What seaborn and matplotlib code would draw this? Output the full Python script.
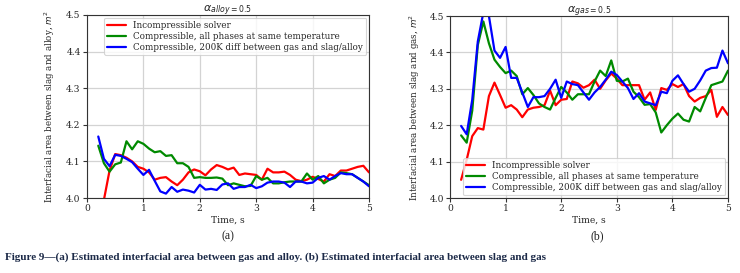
import numpy as np
import pandas as pd
import matplotlib
matplotlib.use("Agg")
import matplotlib.pyplot as plt
import seaborn as sns

time_s = [0.2, 0.3, 0.4, 0.5, 0.6, 0.7, 0.8, 0.9, 1.0, 1.1, 1.2, 1.3, 1.4, 1.5, 1.6, 1.7,
          1.8, 1.9, 2.0, 2.1, 2.2, 2.3, 2.4, 2.5, 2.6, 2.7, 2.8, 2.9, 3.0, 3.1, 3.2, 3.3,
          3.4, 3.5, 3.6, 3.7, 3.8, 3.9, 4.0, 4.1, 4.2, 4.3, 4.4, 4.5, 4.6, 4.7, 4.8, 4.9, 5.0]

series_names = ["Incompressible solver",
                "Compressible, all phases at same temperature",
                "Compressible, 200K diff between gas and slag/alloy"]

# (a) slag / alloy
alloy_incomp = [3.85, 3.995, 4.075, 4.12, 4.117, 4.11, 4.10, 4.085, 4.08, 4.07, 4.05, 4.055, 4.057,
                4.045, 4.035, 4.05, 4.07, 4.078, 4.073, 4.062, 4.078, 4.09, 4.085, 4.078, 4.083,
                4.063, 4.067, 4.065, 4.063, 4.05, 4.08, 4.07, 4.07, 4.072, 4.063, 4.05, 4.046,
                4.05, 4.058, 4.052, 4.045, 4.065, 4.06, 4.075, 4.075, 4.08, 4.085, 4.088, 4.07]
alloy_comp_same = [4.143, 4.095, 4.072, 4.092, 4.097, 4.155, 4.133, 4.155, 4.148, 4.135, 4.125, 4.128,
                   4.115, 4.117, 4.095, 4.095, 4.085, 4.055, 4.057, 4.055, 4.055, 4.056, 4.053, 4.035,
                   4.04, 4.036, 4.032, 4.033, 4.06, 4.05, 4.055, 4.04, 4.04, 4.043, 4.045, 4.045,
                   4.045, 4.067, 4.05, 4.06, 4.04, 4.05, 4.055, 4.07, 4.068, 4.065, 4.055, 4.045, 4.035]
alloy_comp_200k = [4.168, 4.107, 4.087, 4.118, 4.115, 4.107, 4.098, 4.08, 4.063, 4.077, 4.047, 4.018,
                   4.012, 4.03, 4.017, 4.023, 4.02, 4.015, 4.036, 4.023, 4.025, 4.022, 4.037, 4.04,
                   4.025, 4.03, 4.03, 4.036, 4.027, 4.032, 4.042, 4.045, 4.045, 4.042, 4.03, 4.045,
                   4.045, 4.04, 4.042, 4.055, 4.06, 4.05, 4.06, 4.068, 4.065, 4.065, 4.055, 4.045, 4.032]

# (b) slag / gas
gas_incomp = [4.05, 4.105, 4.17, 4.192, 4.188, 4.28, 4.317, 4.283, 4.248, 4.255, 4.243, 4.222, 4.243,
              4.248, 4.25, 4.255, 4.295, 4.255, 4.27, 4.272, 4.32, 4.315, 4.303, 4.31, 4.325, 4.30,
              4.323, 4.342, 4.328, 4.31, 4.31, 4.31, 4.31, 4.27, 4.29, 4.242, 4.302, 4.297, 4.313,
              4.305, 4.313, 4.28, 4.265, 4.275, 4.28, 4.297, 4.223, 4.25, 4.228]
gas_comp_same = [4.172, 4.152, 4.24, 4.42, 4.485, 4.425, 4.38, 4.36, 4.343, 4.35, 4.335, 4.285, 4.302,
                 4.283, 4.26, 4.25, 4.243, 4.275, 4.305, 4.29, 4.27, 4.285, 4.285, 4.285, 4.32, 4.35,
                 4.335, 4.378, 4.322, 4.32, 4.328, 4.292, 4.277, 4.256, 4.258, 4.235, 4.18, 4.20,
                 4.218, 4.232, 4.215, 4.21, 4.25, 4.238, 4.275, 4.31, 4.315, 4.32, 4.35]
gas_comp_200k = [4.198, 4.175, 4.27, 4.43, 4.51, 4.50, 4.405, 4.385, 4.415, 4.33, 4.33, 4.29, 4.25,
                 4.277, 4.277, 4.28, 4.30, 4.325, 4.275, 4.32, 4.313, 4.31, 4.29, 4.27, 4.29, 4.305,
                 4.325, 4.347, 4.338, 4.32, 4.302, 4.272, 4.288, 4.265, 4.26, 4.255, 4.292, 4.288,
                 4.322, 4.337, 4.313, 4.292, 4.30, 4.323, 4.35, 4.357, 4.358, 4.405, 4.37]

y_ticks = [4.0, 4.1, 4.2, 4.3, 4.4, 4.5]
x_ticks = [0, 1, 2, 3, 4, 5]


def long_frame(a, b, c):
    return pd.DataFrame({
        "t": time_s * 3,
        "v": a + b + c,
        "s": [series_names[0]] * len(a) + [series_names[1]] * len(b) + [series_names[2]] * len(c),
    })


sns.set_style("whitegrid")
plt.rcParams["font.family"] = ["DejaVu Serif"]
plt.rcParams["mathtext.fontset"] = "dejavusans"

palette = {series_names[0]: "#ff0000", series_names[1]: "#008a00", series_names[2]: "#0000ff"}

fig = plt.figure(figsize=(7.4, 2.73), dpi=100)
axA = fig.add_axes([87 / 740, 1 - 198 / 273, 282 / 740, 183 / 273])
axB = fig.add_axes([450 / 740, 1 - 198 / 273, 278 / 740, 182 / 273])

panels = [
    (axA, long_frame(alloy_incomp, alloy_comp_same, alloy_comp_200k),
     r"$\alpha_{alloy=0.5}$", r"Interfacial area between slag and alloy, $m^2$", "upper right"),
    (axB, long_frame(gas_incomp, gas_comp_same, gas_comp_200k),
     r"$\alpha_{gas=0.5}$", r"Interfacial area between slag and gas, $m^2$", "lower right"),
]

for ax, df, title, ylabel, loc in panels:
    sns.lineplot(data=df, x="t", y="v", hue="s", palette=palette, ax=ax, linewidth=1.6,
                 estimator=None, sort=False)
    ax.set_xlim(0, 5)
    ax.set_ylim(4.0, 4.5)
    ax.set_xticks(x_ticks)
    ax.set_yticks(y_ticks)
    ax.set_yticklabels([f"{v:.1f}" for v in y_ticks])
    ax.tick_params(axis="both", labelsize=6.6, length=3, width=0.8, color="#333333",
                   pad=1.5, direction="out", bottom=True, left=True)
    ax.grid(True, color="#d3d3d3", linewidth=0.9)
    for sp in ax.spines.values():
        sp.set_color("#333333")
        sp.set_linewidth(0.8)
    ax.set_xlabel("Time, s", fontsize=6.6, labelpad=2)
    ax.set_ylabel(ylabel, fontsize=6.3, labelpad=2)
    ax.set_title(title, fontsize=8, pad=2)
    leg = ax.legend(loc=loc, fontsize=6.3, frameon=True, handlelength=2.2,
                    borderpad=0.35, labelspacing=0.25, handletextpad=0.8,
                    borderaxespad=0.3, fancybox=True)
    leg.get_frame().set_edgecolor("#cccccc")
    leg.get_frame().set_linewidth(0.8)
    for line in leg.get_lines():
        line.set_linewidth(1.6)

axA.yaxis.set_label_coords(-0.105, 0.5)
axB.yaxis.set_label_coords(-0.10, 0.5)

fig.text(228 / 740, 1 - 236 / 273, "(a)", fontsize=8.5, family="Liberation Serif",
         ha="center", va="center", color="#222222")
fig.text(597 / 740, 1 - 236 / 273, "(b)", fontsize=8.5, family="Liberation Serif",
         ha="center", va="center", color="#222222")
fig.text(5 / 740, 1 - 257 / 273,
         "Figure 9\u2014(a) Estimated interfacial area between gas and alloy. "
         "(b) Estimated interfacial area between slag and gas",
         fontsize=8.0, family="Liberation Serif", fontweight="bold",
         ha="left", va="center", color="#1c2a48")

fig.savefig("out.png", dpi=100)
